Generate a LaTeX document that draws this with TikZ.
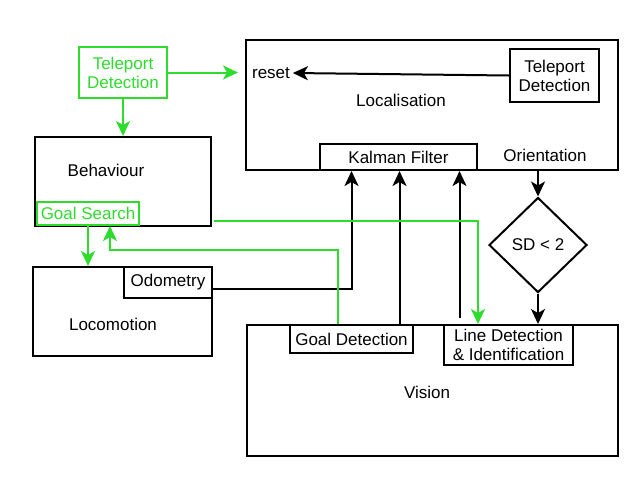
\documentclass[tikz,border=0pt]{standalone}
\usepackage{fontspec}
\setmainfont{Liberation Sans}
\usetikzlibrary{arrows.meta,shapes.geometric}
\tikzset{>={Stealth[length=15pt,width=14pt,inset=4pt]}}
\definecolor{cgr}{RGB}{45,220,45}
\tikzset{
  box/.style={draw, rectangle, inner sep=0pt, anchor=north west, align=center},
  gbox/.style={box, draw=cgr, text=cgr},
  glink/.style={draw=cgr, ->}
}

\begin{document}
\begin{tikzpicture}[x=1pt, y=-1pt, line width=2pt, font=\fontsize{17}{19}\selectfont]
    \useasboundingbox (0, 0) rectangle (639, 483);
    % localisation
    \node[box, minimum width=372, minimum height=130] (loc) at (245, 39) {};
    \node (locl) at (401, 100) {Localisation};
    \node[box, minimum width=89, minimum height=53] (tpl) at (509, 48) {Teleport\\Detection};
    \node[inner sep=2pt] (reset) at (271, 73) {reset};
    \node[box, minimum width=157, minimum height=26] (kal) at (319, 143) {Kalman Filter};
    \node (ori) at (545, 155) {Orientation};
    \node[draw, diamond, inner sep=0pt, minimum width=98, minimum height=95] (sd) at (538, 245) {SD < 2};
    % vision
    \node[box, minimum width=371, minimum height=131] (vis) at (246, 324) {};
    \node (visl) at (427, 392) {Vision};
    \node[box, minimum width=123, minimum height=28] (gdet) at (289, 324) {Goal Detection};
    \node[box, minimum width=129, minimum height=40] (ldet) at (443, 324) {Line Detection\\ \& Identification};
    % behaviour and locomotion
    \node[gbox, minimum width=88, minimum height=51] (tpg) at (78, 46) {Teleport\\Detection};
    \node[box, minimum width=176, minimum height=89] (beh) at (34, 136) {};
    \node (behl) at (106, 170) {Behaviour};
    \node[gbox, minimum width=102, minimum height=23] (gs) at (36, 201) {Goal Search};
    \node[box, minimum width=179, minimum height=89] (loco) at (32, 266) {};
    \node (locol) at (113, 324) {Locomotion};
    \node[box, minimum width=88, minimum height=31] (odo) at (123, 266) {Odometry};

    \coordinate (ka) at ([xshift=-47pt]kal.south);
    \coordinate (kb) at ([xshift=1pt]kal.south);
    \coordinate (kc) at ([xshift=61pt]kal.south);
    \coordinate (bg) at ([shift={(2,-6)}]beh.south east);
    \coordinate (lg) at ([xshift=35pt]ldet.north west);
    \coordinate (gg) at ([xshift=49pt]gdet.north west);
    \coordinate (gsin) at ([xshift=74pt]gs.south west);

    % black connectors
    \draw[->] (tpl.west) -- (reset.east);
    \draw[->] ([yshift=-6pt]odo.east) -| (ka);
    \draw[->] (gdet.north -| kb) -- (kb);
    \draw[->, shorten <=6pt] (ldet.north -| kc) -- (kc);
    \draw[->] (loc.south -| sd.north) -- (sd.north);
    \draw[->] (sd.south) -- (sd.south |- vis.north);
    % green connectors
    \draw[glink, shorten >=7pt] (tpg.east) -- (tpg.east -| loc.west);
    \draw[glink] (tpg.south) -- (beh.north);
    \draw[glink] (bg) -| (lg);
    \draw[glink] (gg) -- ++(0, -74) -| (gsin);
    \draw[glink] (gs.south) -- (gs.south |- loco.north);
\end{tikzpicture}
\end{document}
